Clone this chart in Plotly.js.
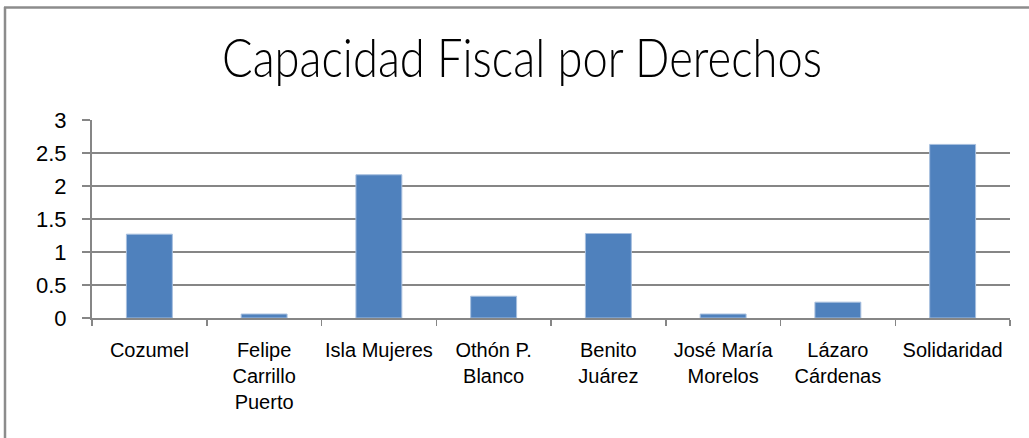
<!DOCTYPE html>
<html>
<head>
<meta charset="utf-8">
<script src="https://cdn.plot.ly/plotly-3.0.1.min.js"></script>
<style>html,body{margin:0;padding:0;background:#fff;}#chart{width:1029px;height:438px;}</style>
</head>
<body>
<div id="chart"></div>
<script>
var categories = ["Cozumel", "Felipe<br>Carrillo<br>Puerto", "Isla Mujeres", "Othón P.<br>Blanco", "Benito<br>Juárez", "José María<br>Morelos", "Lázaro<br>Cárdenas", "Solidaridad"];
var values = [1.27, 0.06, 2.17, 0.33, 1.28, 0.06, 0.24, 2.63];
var yTicks = [0, 0.5, 1, 1.5, 2, 2.5, 3];
var yTickText = ["0", "0.5", "1", "1.5", "2", "2.5", "3"];
var chartTitle = "Capacidad Fiscal por Derechos";

var W = 1029, H = 438;
var mL = 92, mR = 19, mT = 120, mB = 120;
var pw = W - mL - mR, ph = H - mT - mB;
function px(x) { return (x - mL) / pw; }
function py(y) { return (H - mB - y) / ph; }

var trace = {
  type: "bar",
  x: categories,
  y: values,
  marker: { color: "#4F81BD", line: { color: "#a7bfde", width: 1 } },
  hoverinfo: "x+y"
};

var layout = {
  width: W, height: H,
  margin: { l: mL, r: mR, t: mT, b: mB, pad: 0 },
  paper_bgcolor: "#ffffff",
  plot_bgcolor: "#ffffff",
  showlegend: false,
  bargap: 0.6,
  title: {
    text: chartTitle,
    font: { family: "Lato, Liberation Sans, sans-serif", size: 54, color: "#000000", weight: 300 },
    x: 522 / W, xref: "container", xanchor: "center",
    y: 1 - 58 / H, yref: "container", yanchor: "middle"
  },
  font: { family: "Liberation Sans, Arial, sans-serif", color: "#000000" },
  xaxis: {
    type: "category",
    showline: true, linecolor: "#868686", linewidth: 2,
    ticks: "outside", tickson: "boundaries", ticklen: 6, tickcolor: "#868686", tickwidth: 1.5,
    showgrid: false, zeroline: false,
    tickfont: { family: "Liberation Sans, Arial, sans-serif", size: 20, color: "#000000" },
    tickangle: 0,
    ticklabelstandoff: 13,
    fixedrange: true
  },
  yaxis: {
    range: [0, 3],
    tickvals: yTicks, ticktext: yTickText,
    showline: true, linecolor: "#868686", linewidth: 2,
    ticks: "outside", ticklen: 8, tickcolor: "#868686", tickwidth: 1.5,
    showgrid: true, gridcolor: "#868686", gridwidth: 1.3,
    zeroline: false,
    tickfont: { family: "Liberation Sans, Arial, sans-serif", size: 22, color: "#000000" },
    ticklabelstandoff: 11,
    fixedrange: true
  },
  shapes: [
    { type: "line", xref: "paper", yref: "paper", x0: px(5), x1: px(5), y0: py(7), y1: py(H + 10),
      line: { color: "#8c8c8c", width: 2.5 } },
    { type: "line", xref: "paper", yref: "paper", x0: px(4), x1: px(W + 10), y0: py(7.5), y1: py(7.5),
      line: { color: "#8c8c8c", width: 2.5 } }
  ]
};

function squeezeTitle() {
  var t = document.querySelector("#chart .gtitle");
  if (t) {
    t.setAttribute("textLength", "600");
    t.setAttribute("lengthAdjust", "spacingAndGlyphs");
  }
}

Plotly.newPlot("chart", [trace], layout, { displayModeBar: false, staticPlot: true }).then(squeezeTitle);
</script>
</body>
</html>
